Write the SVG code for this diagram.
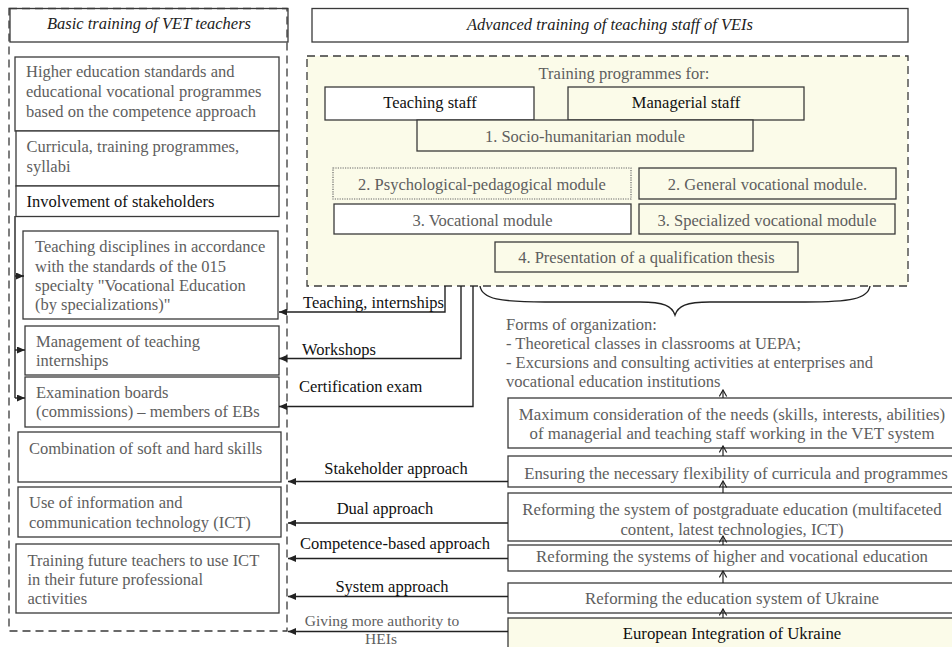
<svg xmlns="http://www.w3.org/2000/svg" width="952" height="647" viewBox="0 0 952 647">
  <defs>
    <style>
      .box{fill:#fff;stroke:#3a3a3a;stroke-width:1.3}
      .ybox{fill:#fbfbe9;stroke:#3a3a3a;stroke-width:1.3}
      .dot{fill:#fbfbe9;stroke:#666;stroke-width:1.2;stroke-dasharray:1.2 1.2}
      .dash{fill:none;stroke:#3a3a3a;stroke-width:1.3;stroke-dasharray:8 5}
      .ydash{fill:#fbfbe9;stroke:#3a3a3a;stroke-width:1.3;stroke-dasharray:8 5}
      text{font-family:"Liberation Serif","Times New Roman",serif;font-size:16.5px}
      .g{fill:#5e5e5e}
      .k{fill:#111}
      .it{font-style:italic;fill:#222}
      .c{text-anchor:middle}
      .s{font-size:16.8px}
      .sm{font-size:15.5px}
      .ln{fill:none;stroke:#222;stroke-width:1.4}
      .arr{fill:none;stroke:#222;stroke-width:1.4;marker-end:url(#tri)}
      .up{fill:none;stroke:#222;stroke-width:1.2;marker-end:url(#chev)}
    </style>
    <marker id="tri" viewBox="0 0 8 7" refX="8" refY="3.5" markerWidth="8" markerHeight="7" markerUnits="userSpaceOnUse" orient="auto">
      <path d="M0,0 L8,3.5 L0,7 z" fill="#222"/>
    </marker>
    <marker id="chev" viewBox="0 0 8 9" refX="7" refY="4.5" markerWidth="8" markerHeight="9" markerUnits="userSpaceOnUse" orient="auto">
      <path d="M0.5,0.8 L7,4.5 L0.5,8.2" fill="none" stroke="#222" stroke-width="1.2"/>
    </marker>
  </defs>

  <!-- Left column: basic training -->
  <g id="basic-frame">
    <rect class="box" x="10" y="8.5" width="278" height="33.5"/>
    <rect class="dash" x="9" y="8.5" width="278" height="622.5"/>
    <text class="it c" x="149" y="29">Basic training of VET teachers</text>
  </g>
  <g id="standards">
    <rect class="box" x="15" y="57" width="264" height="74"/>
    <text class="g" x="26" y="77">Higher education standards and</text>
    <text class="g" x="26" y="97">educational vocational programmes</text>
    <text class="g" x="26" y="116.5">based on the competence approach</text>
  </g>
  <g id="curricula">
    <rect class="box" x="16" y="131" width="263" height="55"/>
    <text class="g" x="26.5" y="152">Curricula, training programmes,</text>
    <text class="g" x="26.5" y="172">syllabi</text>
  </g>
  <g id="stakeholders">
    <rect class="box" x="16" y="186" width="263" height="30.5"/>
    <text class="k" x="26.5" y="207">Involvement of stakeholders</text>
  </g>
  <g id="disciplines">
    <rect class="box" x="23" y="231" width="255" height="88"/>
    <text class="g" x="35" y="252">Teaching disciplines in accordance</text>
    <text class="g" x="35" y="271.5">with the standards of the 015</text>
    <text class="g" x="35" y="291">specialty "Vocational Education</text>
    <text class="g" x="35" y="310">(by specializations)"</text>
  </g>
  <g id="internships">
    <rect class="box" x="25" y="326" width="254" height="49"/>
    <text class="g" x="36" y="347">Management of teaching</text>
    <text class="g" x="36" y="366">internships</text>
  </g>
  <g id="exam-boards">
    <rect class="box" x="25" y="377" width="254" height="50"/>
    <text class="g" x="36" y="398">Examination boards</text>
    <text class="g" x="36" y="417">(commissions) – members of EBs</text>
  </g>
  <g id="skills">
    <rect class="box" x="18" y="432" width="263" height="50"/>
    <text class="g" x="29" y="454">Combination of soft and hard skills</text>
  </g>
  <g id="ict-use">
    <rect class="box" x="18" y="487" width="263" height="50"/>
    <text class="g" x="29" y="508">Use of information and</text>
    <text class="g" x="29" y="528">communication technology (ICT)</text>
  </g>
  <g id="ict-training">
    <rect class="box" x="16" y="544" width="263" height="69"/>
    <text class="g" x="27.5" y="565.5">Training future teachers to use ICT</text>
    <text class="g" x="27.5" y="585">in their future professional</text>
    <text class="g" x="27.5" y="604">activities</text>
  </g>

  <!-- Right column: advanced training -->
  <g id="advanced-title">
    <rect class="box" x="312" y="8.5" width="596" height="33.5"/>
    <text class="it c" x="610" y="30">Advanced training of teaching staff of VEIs</text>
  </g>
  <g id="programmes">
    <rect class="ydash" x="307" y="56" width="601" height="230"/>
    <text class="g c" x="624" y="78.5">Training programmes for:</text>
  </g>
  <g id="teaching-staff">
    <rect class="box" x="325" y="87" width="209" height="33"/>
    <text class="k c" x="430" y="108">Teaching staff</text>
  </g>
  <g id="managerial-staff">
    <rect class="ybox" x="568" y="87" width="236" height="33"/>
    <text class="k c" x="686" y="108">Managerial staff</text>
  </g>
  <g id="module-1">
    <rect class="ybox" x="417" y="120" width="336" height="31"/>
    <text class="g c" x="585" y="141.5">1. Socio-humanitarian module</text>
  </g>
  <g id="module-2a">
    <rect class="dot" x="333" y="168" width="298" height="31"/>
    <text class="g c" x="482" y="189.5">2. Psychological-pedagogical module</text>
  </g>
  <g id="module-2b">
    <rect class="ybox" x="639" y="168" width="257" height="31"/>
    <text class="g c" x="767.5" y="189.5">2. General vocational module.</text>
  </g>
  <g id="module-3a">
    <rect class="box" x="334" y="204" width="297" height="30"/>
    <text class="g c" x="482.5" y="225.5">3. Vocational module</text>
  </g>
  <g id="module-3b">
    <rect class="ybox" x="639" y="204" width="256" height="30"/>
    <text class="g c" x="767" y="225.5">3. Specialized vocational module</text>
  </g>
  <g id="module-4">
    <rect class="ybox" x="495" y="242" width="303" height="30"/>
    <text class="g c" x="646.5" y="263">4. Presentation of a qualification thesis</text>
  </g>
  <g id="forms">
    <path class="ln" d="M480,286 C482,299 500,302 545,302 L640,302 C664,302 672,306 675,315 C678,306 686,302 710,302 L805,302 C850,302 868,299 870,286"/>
    <text class="g" x="506" y="330">Forms of organization:</text>
    <text class="g" x="506" y="348.5">- Theoretical classes in classrooms at UEPA;</text>
    <text class="g" x="506" y="367.5">- Excursions and consulting activities at enterprises and</text>
    <text class="g" x="506" y="386.5">vocational education institutions</text>
  </g>

  <!-- Stack of reforms -->
  <g id="needs">
    <rect class="box" x="508" y="398" width="452" height="50"/>
    <text class="g c s" x="732" y="419.5">Maximum consideration of the needs (skills, interests, abilities)</text>
    <text class="g c s" x="732" y="439">of managerial and teaching staff working in the VET system</text>
  </g>
  <g id="flexibility">
    <rect class="box" x="508" y="456" width="452" height="31"/>
    <text class="g c s" x="736" y="478.5">Ensuring the necessary flexibility of curricula and programmes</text>
  </g>
  <g id="postgraduate">
    <rect class="box" x="508" y="493" width="452" height="48"/>
    <text class="g c s" x="732" y="514.5">Reforming the system of postgraduate education (multifaceted</text>
    <text class="g c s" x="732" y="534.5">content, latest technologies, ICT)</text>
  </g>
  <g id="higher-vocational">
    <rect class="box" x="508" y="545" width="452" height="26"/>
    <text class="g c s" x="732" y="562">Reforming the systems of higher and vocational education</text>
  </g>
  <g id="education-system">
    <rect class="box" x="508" y="583" width="452" height="30"/>
    <text class="g c s" x="732" y="603.5">Reforming the education system of Ukraine</text>
  </g>
  <g id="eu-integration">
    <rect class="ybox" x="508" y="618" width="452" height="40"/>
    <text class="k c s" x="732" y="638.5">European Integration of Ukraine</text>
  </g>

  <!-- Connectors -->
  <g id="connectors">
    <path class="ln" d="M15,216 V398"/>
    <path class="arr" d="M15,276 H24"/>
    <path class="arr" d="M15,350 H25"/>
    <path class="arr" d="M15,398 H25"/>

    <path class="arr" d="M445,286 V312 H279"/>
    <path class="arr" d="M461,286 V358.5 H279"/>
    <path class="arr" d="M473,286 V406.5 H279"/>

    <path class="arr" d="M508,481.5 H288"/>
    <path class="arr" d="M508,523 H288"/>
    <path class="arr" d="M508,558.5 H288"/>
    <path class="arr" d="M508,596.5 H288"/>
    <path class="arr" d="M508,631.5 H288"/>

    <path class="up" d="M723,398 V390"/>
    <path class="up" d="M723,456 V446"/>
    <path class="up" d="M723,493 V481"/>
    <path class="up" d="M723,545 V536"/>
    <path class="up" d="M723,583 V571"/>
    <path class="up" d="M723,618 V609"/>
  </g>

  <!-- Connector labels -->
  <g id="connector-labels">
    <text class="k" x="303" y="308">Teaching, internships</text>
    <text class="k" x="302" y="355">Workshops</text>
    <text class="k" x="299" y="391.5">Certification exam</text>
    <text class="k c" x="396" y="473.5">Stakeholder approach</text>
    <text class="k c" x="385" y="513.5">Dual approach</text>
    <text class="k c" x="395" y="548.5">Competence-based approach</text>
    <text class="k c" x="392" y="591.5">System approach</text>
    <text class="g c sm" x="382" y="626">Giving more authority to</text>
    <text class="g c sm" x="381" y="643.5">HEIs</text>
  </g>
</svg>
